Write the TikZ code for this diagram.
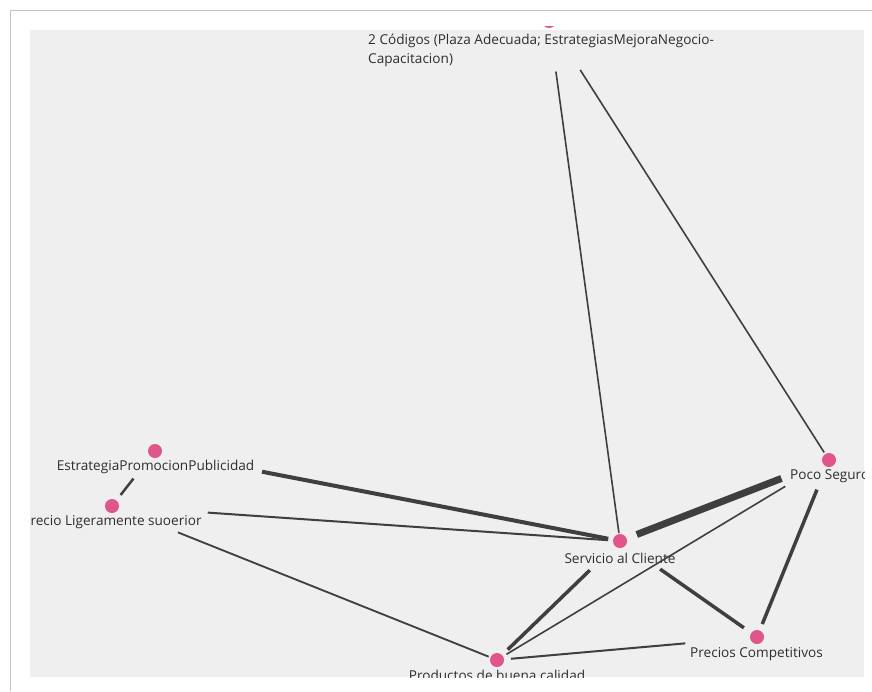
\documentclass[tikz,border=0pt]{standalone}
\usepackage{fontspec}
\setmainfont{Open Sans}

\definecolor{nodepink}{HTML}{E0558A}
\definecolor{edgegray}{HTML}{3F3F3F}
\definecolor{panelgray}{HTML}{EFEFEF}
\definecolor{framegray}{HTML}{C4C4C4}
\definecolor{labelgray}{HTML}{2E2E2E}

\tikzset{
  vertex/.style={circle, fill=nodepink, inner sep=0pt, minimum size=14pt},
  vlabel/.style={font=\fontsize{13.6}{18.5}\selectfont, text=labelgray, inner sep=0pt},
  link/.style={draw=edgegray, line cap=butt},
}

\begin{document}
\begin{tikzpicture}[x=1pt,y=-1pt]
\useasboundingbox (0,0) rectangle (872,691);
\fill[white] (0,0) rectangle (872,691);
\draw[framegray, line width=1.5pt] (10.5,691) -- (10.5,10.5) -- (872,10.5);
\fill[panelgray] (30,30) rectangle (864,677);

\begin{scope}
\clip (30,26) rectangle (864,677);
% vertices
\node[vertex] (codigos) at (549,21) {};
\node[vertex] (promo) at (155,451) {};
\node[vertex] (precio) at (112,506) {};
\node[vertex] (servicio) at (620,541) {};
\node[vertex] (seguro) at (829,460) {};
\node[vertex] (competitivos) at (757,637) {};
\node[vertex] (productos) at (497,660) {};
% labels
\node[vlabel, anchor=north west, align=left] (codigos-lbl) at (368,34)
  {2 Códigos (Plaza Adecuada; EstrategiasMejoraNegocio-\\Capacitacion)};
\node[vlabel] (promo-lbl) at (155.5,467) {EstrategiaPromocionPublicidad};
\node[vlabel] (precio-lbl) at (112,522) {Precio Ligeramente suoerior};
\node[vlabel] (servicio-lbl) at (620,558) {Servicio al Cliente};
\node[vlabel, anchor=west] (seguro-lbl) at (790,476) {Poco Seguro};
\node[vlabel] (competitivos-lbl) at (756.5,654) {Precios Competitivos};
\node[vlabel, anchor=north] (productos-lbl) at (497,670) {Productos de buena calidad};
% links
\draw[link, line width=1.6pt, shorten <=51pt, shorten >=8pt] (codigos.center) -- (servicio.center);
\draw[link, line width=1.6pt, shorten <=58pt, shorten >=9pt] (codigos.center) -- (seguro.center);
\draw[link, line width=4pt, shorten <=109pt, shorten >=12pt] (promo.center) -- (servicio.center);
\draw[link, line width=2.5pt, shorten <=35pt, shorten >=14pt] (promo.center) -- (precio.center);
\draw[link, line width=2pt, shorten <=96pt, shorten >=12pt] (precio.center) -- (servicio.center);
\draw[link, line width=1.8pt, shorten <=71pt, shorten >=9pt] (precio.center) -- (productos.center);
\draw[link, line width=7pt, shorten <=18pt, shorten >=51pt] (servicio.center) -- (seguro.center);
\draw[link, line width=1.6pt, shorten <=51pt, shorten >=11pt] (seguro.center) -- (productos.center);
\draw[link, line width=3.5pt, shorten <=32pt, shorten >=14pt] (seguro.center) -- (competitivos.center);
\draw[link, line width=3.5pt, shorten <=42pt, shorten >=15pt] (servicio.center) -- (productos.center);
\draw[link, line width=3.5pt, shorten <=49pt, shorten >=16pt] (servicio.center) -- (competitivos.center);
\draw[link, line width=2pt, shorten <=14pt, shorten >=72pt] (productos.center) -- (competitivos.center);
\end{scope}
\end{tikzpicture}
\end{document}
